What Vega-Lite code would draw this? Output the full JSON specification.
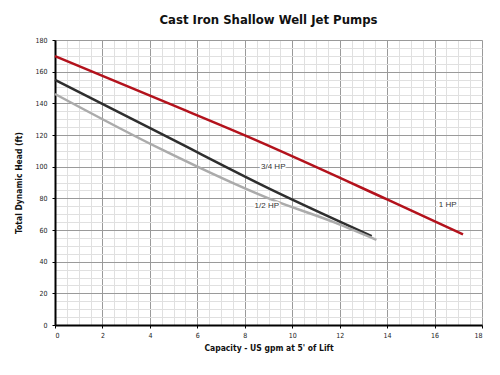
{
  "$schema": "https://vega.github.io/schema/vega-lite/v6.json",
  "autosize": {"type": "none"},
  "padding": {"left": 55, "top": 40, "right": 18, "bottom": 50},
  "width": 427,
  "height": 285,
  "background": "white",
  "title": {
    "text": "Cast Iron Shallow Well Jet Pumps",
    "font": "DejaVu Sans Condensed",
    "fontSize": 13,
    "fontWeight": "bold",
    "color": "#111",
    "anchor": "middle",
    "offset": 9
  },
  "config": {
    "view": {"stroke": "#444", "strokeWidth": 1},
    "axis": {
      "labelFont": "DejaVu Sans Condensed",
      "titleFont": "DejaVu Sans Condensed",
      "labelColor": "#222",
      "titleColor": "#111"
    }
  },
  "datasets": {
    "curves": [
      {"pump": "1 HP", "gpm": 0, "head": 169.8},
      {"pump": "1 HP", "gpm": 4.84, "head": 139.6},
      {"pump": "1 HP", "gpm": 7.98, "head": 119.9},
      {"pump": "1 HP", "gpm": 14.0, "head": 79.3},
      {"pump": "1 HP", "gpm": 17.2, "head": 57.2},
      {"pump": "3/4 HP", "gpm": 0, "head": 154.8},
      {"pump": "3/4 HP", "gpm": 4.84, "head": 118.0},
      {"pump": "3/4 HP", "gpm": 9.03, "head": 86.2},
      {"pump": "3/4 HP", "gpm": 13.35, "head": 56.2},
      {"pump": "1/2 HP", "gpm": 0, "head": 145.9},
      {"pump": "1/2 HP", "gpm": 4.45, "head": 111.2},
      {"pump": "1/2 HP", "gpm": 9.03, "head": 79.8},
      {"pump": "1/2 HP", "gpm": 11.83, "head": 64.5},
      {"pump": "1/2 HP", "gpm": 13.55, "head": 53.8}
    ],
    "labels": [
      {"label": "3/4 HP", "gpm": 9.2, "head": 100},
      {"label": "1/2 HP", "gpm": 8.93, "head": 75},
      {"label": "1 HP", "gpm": 16.55, "head": 76}
    ]
  },
  "resolve": {"axis": {"x": "independent", "y": "independent"}},
  "layer": [
    {
      "data": {"name": "curves"},
      "mark": {"type": "line", "strokeWidth": 2.5, "interpolate": "monotone"},
      "encoding": {
        "x": {
          "field": "gpm", "type": "quantitative",
          "scale": {"domain": [0, 18], "nice": false, "zero": false},
          "axis": {
            "orient": "bottom", "title": null, "labels": false, "ticks": false, "domain": false,
            "grid": true, "gridColor": "#e0e0e0", "gridWidth": 1,
            "values": [0,0.5,1,1.5,2,2.5,3,3.5,4,4.5,5,5.5,6,6.5,7,7.5,8,8.5,9,9.5,10,10.5,11,11.5,12,12.5,13,13.5,14,14.5,15,15.5,16,16.5,17,17.5,18]
          }
        },
        "y": {
          "field": "head", "type": "quantitative",
          "scale": {"domain": [0, 180], "nice": false},
          "axis": {
            "orient": "left", "title": null, "labels": false, "ticks": false, "domain": false,
            "grid": true, "gridColor": "#e0e0e0", "gridWidth": 1,
            "values": [0,5,10,15,20,25,30,35,40,45,50,55,60,65,70,75,80,85,90,95,100,105,110,115,120,125,130,135,140,145,150,155,160,165,170,175,180]
          }
        },
        "color": {
          "field": "pump", "type": "nominal",
          "scale": {"domain": ["1 HP", "3/4 HP", "1/2 HP"], "range": ["#b3121c", "#2e2e2e", "#ababab"]},
          "legend": null
        },
        "detail": {"field": "pump"}
      }
    },
    {
      "data": {"name": "labels"},
      "mark": {"type": "text", "font": "Liberation Sans", "fontSize": 8, "fill": "#333", "stroke": "white", "strokeWidth": 3, "strokeJoin": "round"},
      "encoding": {
        "x": {
          "field": "gpm", "type": "quantitative",
          "axis": {
            "orient": "bottom", "title": "Capacity - US gpm at 5' of Lift",
            "titleFontSize": 8.5, "titleFontWeight": "bold", "titlePadding": 5,
            "labelFontSize": 7, "labelPadding": 3, "tickSize": 3, "tickColor": "#000",
            "domain": true, "domainColor": "#000", "domainWidth": 2,
            "grid": true, "gridColor": "#9a9a9a", "gridWidth": 1,
            "values": [0,2,4,6,8,10,12,14,16,18]
          }
        },
        "y": {
          "field": "head", "type": "quantitative",
          "axis": {
            "orient": "left", "title": "Total Dynamic Head (ft)",
            "titleFontSize": 8.5, "titleFontWeight": "bold", "titlePadding": 11,
            "labelFontSize": 7, "labelPadding": 5, "tickSize": 3, "tickColor": "#000",
            "domain": true, "domainColor": "#000", "domainWidth": 2,
            "grid": true, "gridColor": "#9a9a9a", "gridWidth": 1,
            "values": [0,20,40,60,80,100,120,140,160,180]
          }
        },
        "text": {"field": "label"}
      }
    },
    {
      "data": {"name": "labels"},
      "mark": {"type": "text", "font": "Liberation Sans", "fontSize": 8, "fill": "#333"},
      "encoding": {
        "x": {"field": "gpm", "type": "quantitative", "axis": null},
        "y": {"field": "head", "type": "quantitative", "axis": null},
        "text": {"field": "label"}
      }
    }
  ]
}
